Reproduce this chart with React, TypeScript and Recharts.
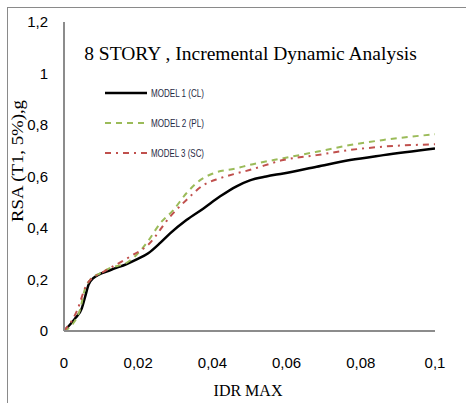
import React from 'react';
import { LineChart, Line, XAxis, YAxis } from 'recharts';

// IDR MAX (x) and RSA (y)
const clX = [0, 0.003, 0.0048, 0.0057, 0.0066, 0.0079, 0.0124, 0.0169, 0.0196, 0.0227, 0.026, 0.0286, 0.033, 0.0376, 0.042, 0.0465, 0.0501, 0.0545, 0.0591, 0.0681, 0.0771, 0.0861, 0.1];
const clY = [0, 0.049, 0.088, 0.133, 0.179, 0.205, 0.236, 0.26, 0.278, 0.302, 0.343, 0.379, 0.431, 0.476, 0.522, 0.562, 0.585, 0.6, 0.612, 0.638, 0.664, 0.683, 0.709];

const plX = [0, 0.0025, 0.0043, 0.0057, 0.007, 0.0097, 0.0125, 0.0169, 0.0195, 0.0227, 0.0259, 0.0295, 0.033, 0.0367, 0.0402, 0.0465, 0.0501, 0.0591, 0.0681, 0.0771, 0.0861, 0.1];
const plY = [0, 0.03, 0.082, 0.166, 0.198, 0.224, 0.245, 0.265, 0.295, 0.35, 0.418, 0.47, 0.535, 0.586, 0.612, 0.632, 0.645, 0.671, 0.696, 0.722, 0.742, 0.764];

const scX = [0, 0.0034, 0.0061, 0.0075, 0.0097, 0.0125, 0.0178, 0.0227, 0.0286, 0.033, 0.0376, 0.042, 0.0465, 0.05, 0.0591, 0.0681, 0.0771, 0.0861, 0.1];
const scY = [0, 0.075, 0.18, 0.205, 0.222, 0.245, 0.289, 0.335, 0.444, 0.509, 0.567, 0.593, 0.612, 0.625, 0.664, 0.683, 0.703, 0.716, 0.725];

const xTicks = [0, 0.02, 0.04, 0.06, 0.08, 0.1];
const yTicks = [0, 0.2, 0.4, 0.6, 0.8, 1, 1.2];

const seriesNames = ['MODEL 1 (CL)', 'MODEL 2 (PL)', 'MODEL 3 (SC)'];

const toPoints = (xs: number[], ys: number[]) => xs.map((x, i) => ({ x, y: ys[i] }));

const series = [
  { name: seriesNames[0], data: toPoints(clX, clY), color: '#000000', width: 2.5, dash: undefined },
  { name: seriesNames[1], data: toPoints(plX, plY), color: '#9bbb59', width: 2, dash: '6 5' },
  { name: seriesNames[2], data: toPoints(scX, scY), color: '#c0504d', width: 2, dash: '6 5 2 5' },
];

const fmt = (v: number) => String(v).replace('.', ',');
const tickStyle = { fontFamily: '"Liberation Sans", Arial, sans-serif', fontSize: 15, fill: '#000' };
const serif = '"Liberation Serif", "Times New Roman", serif';

export default function App() {
  return (
    <div style={{ position: 'absolute', left: 0, top: 0, width: 466, height: 403, background: '#fff' }}>
      <div
        style={{
          position: 'absolute', left: 7, top: 7, right: 0, bottom: 0,
          borderTop: '1.5px solid #8a8a8a', borderLeft: '1.5px solid #8a8a8a',
        }}
      />
      <LineChart width={466} height={403} margin={{ top: 22, right: 31, bottom: 12, left: 0 }}>
        <XAxis
          type="number"
          dataKey="x"
          domain={[0, 0.1]}
          ticks={xTicks}
          tickFormatter={fmt}
          allowDataOverflow
          height={60}
          tickSize={0}
          tickMargin={26}
          axisLine={{ stroke: '#8c8c8c', strokeWidth: 2 }}
          tick={tickStyle}
        />
        <XAxis xAxisId="top" orientation="top" type="number" domain={[0, 0.1]} height={0} tick={false} tickLine={false} axisLine={{ stroke: '#111', strokeWidth: 1.8 }} />
        <YAxis
          type="number"
          domain={[0, 1.2]}
          ticks={yTicks}
          tickFormatter={fmt}
          width={64}
          tickSize={0}
          tickMargin={16}
          axisLine={{ stroke: '#8c8c8c', strokeWidth: 2 }}
          tick={tickStyle}
        />
        <YAxis yAxisId="right" orientation="right" type="number" domain={[0, 1.2]} width={0} tick={false} tickLine={false} axisLine={{ stroke: '#111', strokeWidth: 1.8 }} />
        {series.map((s) => (
          <Line
            key={s.name}
            data={s.data}
            dataKey="y"
            name={s.name}
            type="monotone"
            stroke={s.color}
            strokeWidth={s.width}
            strokeDasharray={s.dash}
            dot={false}
            activeDot={false}
            isAnimationActive={false}
          />
        ))}
        <text x={250.5} y={60} textAnchor="middle" style={{ fontFamily: serif, fontSize: 19.5, fill: '#000' }}>
          8 STORY , Incremental Dynamic Analysis
        </text>
        <text x={248} y={396} textAnchor="middle" style={{ fontFamily: serif, fontSize: 16, fill: '#000' }}>
          IDR MAX
        </text>
        <text
          x={23}
          y={161}
          textAnchor="middle"
          transform="rotate(-90 23 161)"
          textLength={122}
          lengthAdjust="spacingAndGlyphs"
          style={{ fontFamily: serif, fontSize: 16.5, fill: '#000' }}
        >
          RSA (T1, 5%),g
        </text>
        {series.map((s, i) => (
          <g key={'lg' + s.name}>
            <line x1={105} x2={147} y1={93 + i * 30} y2={93 + i * 30} stroke={s.color} strokeWidth={s.width} strokeDasharray={s.dash} />
            <text
              x={151}
              y={97 + i * 30}
              textLength={53}
              lengthAdjust="spacingAndGlyphs"
              style={{ fontFamily: '"Liberation Sans", Arial, sans-serif', fontSize: 11, fill: '#1f2a44' }}
            >
              {s.name}
            </text>
          </g>
        ))}
      </LineChart>
    </div>
  );
}
